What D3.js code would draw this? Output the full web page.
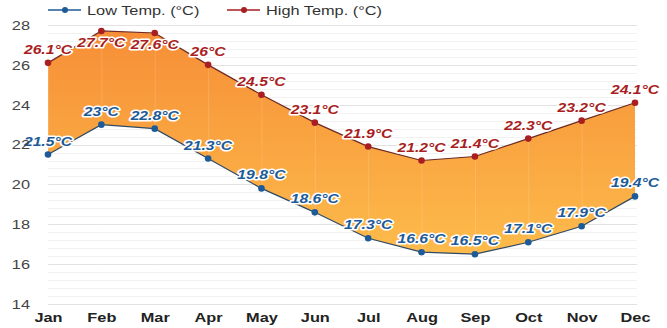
<!DOCTYPE html>
<html>
<head>
<meta charset="utf-8">
<script src="https://cdn.jsdelivr.net/npm/d3@7"></script>
<style>
  html, body { margin: 0; padding: 0; background: #fff; }
  svg { display: block; font-family: "Liberation Sans", Arial, sans-serif; }
</style>
</head>
<body>
<svg id="chart" width="667" height="328"></svg>
<script>
// Monthly average temperatures (°C)
const months = ["Jan", "Feb", "Mar", "Apr", "May", "Jun", "Jul", "Aug", "Sep", "Oct", "Nov", "Dec"];
const lowTemps = [21.5, 23, 22.8, 21.3, 19.8, 18.6, 17.3, 16.6, 16.5, 17.1, 17.9, 19.4];
const highTemps = [26.1, 27.7, 27.6, 26, 24.5, 23.1, 21.9, 21.2, 21.4, 22.3, 23.2, 24.1];
const yTicks = [14, 16, 18, 20, 22, 24, 26, 28];
const seriesNames = ["Low Temp. (°C)", "High Temp. (°C)"];

const lowColor = "#1c5b98";
const highColor = "#a81e22";
const WIDEN = "scale(1.21,1)"; // wide lettering used throughout

const svg = d3.select("#chart");

const x = d3.scalePoint().domain(months).range([48, 635]).padding(0);
const y = d3.scaleLinear().domain([14, 28]).range([304, 25]);

const rows = months.map((m, i) => ({ m, lo: lowTemps[i], hi: highTemps[i] }));

// gradient fill for the band between low and high
const defs = svg.append("defs");
const grad = defs.append("linearGradient")
  .attr("id", "bandFill")
  .attr("gradientUnits", "userSpaceOnUse")
  .attr("x1", 0).attr("x2", 0)
  .attr("y1", y(28)).attr("y2", y(16));
grad.append("stop").attr("offset", "0%").attr("stop-color", "#f68d36");
grad.append("stop").attr("offset", "100%").attr("stop-color", "#fdbd4c");

// horizontal grid: faint minor lines, slightly darker at labelled ticks
const minor = d3.range(14, 28.001, 0.4);
svg.append("g").selectAll("line").data(minor).join("line")
  .attr("x1", x("Jan")).attr("x2", x("Dec") + 2)
  .attr("y1", d => Math.round(y(d)) + 0.5).attr("y2", d => Math.round(y(d)) + 0.5)
  .attr("stroke", "#f1f1f1").attr("stroke-width", 1);
svg.append("g").selectAll("line").data(yTicks).join("line")
  .attr("x1", x("Jan")).attr("x2", x("Dec") + 2)
  .attr("y1", d => Math.round(y(d)) + 0.5).attr("y2", d => Math.round(y(d)) + 0.5)
  .attr("stroke", "#e2e2e2").attr("stroke-width", 1);

const curve = d3.curveLinear;

// band area
svg.append("path")
  .datum(rows)
  .attr("d", d3.area().x(d => x(d.m)).y0(d => y(d.lo)).y1(d => y(d.hi)).curve(curve))
  .attr("fill", "url(#bandFill)");

// faint vertical grid lines across the band
svg.append("g").selectAll("line").data(months).join("line")
  .attr("x1", d => x(d) + 0.5).attr("x2", d => x(d) + 0.5)
  .attr("y1", y(28)).attr("y2", y(14))
  .attr("stroke", "rgba(255,255,255,0.15)").attr("stroke-width", 1);

// series lines
const lineLo = d3.line().x(d => x(d.m)).y(d => y(d.lo)).curve(curve);
const lineHi = d3.line().x(d => x(d.m)).y(d => y(d.hi)).curve(curve);
svg.append("path").datum(rows).attr("d", lineHi)
  .attr("fill", "none").attr("stroke", "#6e2a24").attr("stroke-width", 1.2);
svg.append("path").datum(rows).attr("d", lineLo)
  .attr("fill", "none").attr("stroke", "#2f4a66").attr("stroke-width", 1.2);

// markers
svg.append("g").selectAll("circle").data(rows).join("circle")
  .attr("cx", d => x(d.m)).attr("cy", d => y(d.hi)).attr("r", 3.3)
  .attr("fill", highColor);
svg.append("g").selectAll("circle").data(rows).join("circle")
  .attr("cx", d => x(d.m)).attr("cy", d => y(d.lo)).attr("r", 3.3)
  .attr("fill", lowColor);

// value labels
function fmt(v) { return v + "°C"; }
function addLabels(key, color, below) {
  const g = svg.append("g").selectAll("g").data(rows).join("g")
    .attr("transform", d => {
      const py = y(d[key]);
      const ty = below(d[key]) ? py + 16 : py - 9;
      const tx = Math.min(x(d.m), 637);
      return `translate(${tx},${ty})`;
    });
  g.append("text")
    .attr("transform", WIDEN)
    .attr("text-anchor", "middle")
    .attr("font-size", 13)
    .attr("font-weight", "bold")
    .attr("font-style", "italic")
    .attr("fill", color)
    .attr("stroke", "#fff")
    .attr("stroke-width", 3)
    .attr("stroke-linejoin", "round")
    .attr("paint-order", "stroke")
    .text(d => fmt(d[key]));
}
addLabels("hi", highColor, v => v > 27);
addLabels("lo", lowColor, () => false);

// y axis labels
const yAxis = d3.axisLeft(y).tickValues(yTicks).tickSize(0).tickPadding(0);
const gy = svg.append("g").attr("transform", "translate(30,0)").call(yAxis);
gy.select(".domain").remove();
gy.selectAll("text")
  .attr("x", 0)
  .attr("transform", WIDEN)
  .attr("font-size", 13.5).attr("fill", "#444")
  .attr("font-family", "Liberation Sans, Arial, sans-serif");

// x axis labels
const xAxis = d3.axisBottom(x).tickSize(0).tickPadding(0);
const gx = svg.append("g").attr("transform", "translate(0,312)").call(xAxis);
gx.select(".domain").remove();
gx.selectAll("text")
  .attr("transform", WIDEN)
  .attr("font-size", 13.5).attr("font-weight", "bold").attr("fill", "#222")
  .attr("font-family", "Liberation Sans, Arial, sans-serif");

// legend
const legend = svg.append("g");
const legendItems = [
  { name: seriesNames[0], color: lowColor, x0: 48 },
  { name: seriesNames[1], color: highColor, x0: 227 }
];
const li = legend.selectAll("g").data(legendItems).join("g")
  .attr("transform", d => `translate(${d.x0},10)`);
li.append("line").attr("x1", 0).attr("x2", 33).attr("y1", 0).attr("y2", 0)
  .attr("stroke", d => d.color).attr("stroke-width", 1.5);
li.append("circle").attr("cx", 17).attr("cy", 0).attr("r", 3).attr("fill", d => d.color);
li.append("text")
  .attr("transform", "translate(39,5) " + WIDEN)
  .attr("font-size", 13.5).attr("fill", "#333")
  .text(d => d.name);
</script>
</body>
</html>
